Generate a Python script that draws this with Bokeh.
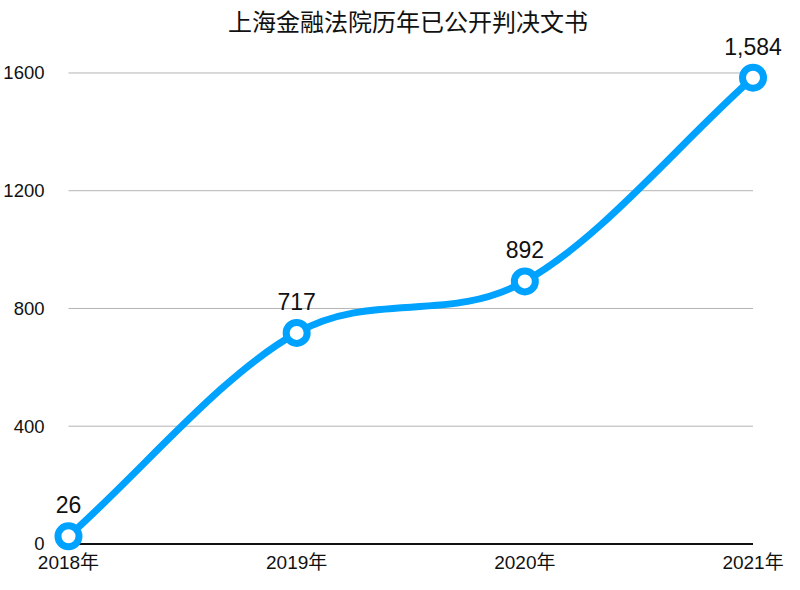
from bokeh.plotting import figure
from bokeh.models import Range1d, FixedTicker, ColumnDataSource, LabelSet
from bokeh.core.properties import value
from bokeh.embed import file_html
from bokeh.resources import INLINE

title_text = "上海金融法院历年已公开判决文书"
categories = ["2018年", "2019年", "2020年", "2021年"]
counts = [26, 717, 892, 1584]
y_ticks = [0, 400, 800, 1200, 1600]

BLUE = "#00A2FF"
NUM_FONT = "Liberation Sans, Noto Sans CJK SC"

xs = list(range(len(categories)))
src = ColumnDataSource(dict(x=xs, y=counts, zero=[0] * len(xs), cat=categories,
                            lab=[f"{v:,}" for v in counts]))

p = figure(width=784, height=574, output_backend="svg", toolbar_location=None,
           x_axis_location=None,
           x_range=Range1d(-0.1577, 3.1336), y_range=Range1d(-100.4, 1720.5),
           min_border_left=1, min_border_right=1, min_border_top=1, min_border_bottom=1)
p.outline_line_color = None
p.background_fill_color = "white"
p.border_fill_color = "white"
for g in p.grid:
    g.visible = False

p.title.text = title_text
p.title.align = "center"
p.title.offset = 8
p.title.text_font = "Noto Sans CJK SC"
p.title.text_font_size = "24px"
p.title.text_font_style = "normal"
p.title.text_color = "#111111"
p.title.standoff = 0

# y axis (labels allowed to reach into the frame's empty left margin)
p.yaxis.ticker = FixedTicker(ticks=y_ticks)
p.yaxis.axis_line_color = None
p.yaxis.major_tick_line_color = None
p.yaxis.minor_tick_line_color = None
p.yaxis.major_label_text_font = NUM_FONT
p.yaxis.major_label_text_font_size = "18.5px"
p.yaxis.major_label_text_color = "#111111"
p.yaxis.major_label_standoff = -18

# gridlines spanning the category extent
grid_vals = [t for t in y_ticks if t != 0]
p.segment(x0=[xs[0]] * len(grid_vals), y0=grid_vals,
          x1=[xs[-1]] * len(grid_vals), y1=grid_vals,
          line_color="#b4b4b4", line_width=1)
# baseline
p.segment(x0=[xs[0]], y0=[0], x1=[xs[-1]], y1=[0], line_color="#111111", line_width=2)

# smooth curve (Catmull-Rom through the data points, drawn as cubic Beziers)
n = len(xs)
tx, ty = [], []
for i in range(n):
    if i == 0:
        tx.append(xs[1] - xs[0]); ty.append(counts[1] - counts[0])
    elif i == n - 1:
        tx.append(xs[-1] - xs[-2]); ty.append(counts[-1] - counts[-2])
    else:
        tx.append((xs[i + 1] - xs[i - 1]) / 2); ty.append((counts[i + 1] - counts[i - 1]) / 2)
bx0, by0, bx1, by1, cx0, cy0, cx1, cy1 = [], [], [], [], [], [], [], []
for i in range(n - 1):
    bx0.append(xs[i]); by0.append(counts[i])
    bx1.append(xs[i + 1]); by1.append(counts[i + 1])
    cx0.append(xs[i] + tx[i] / 3); cy0.append(counts[i] + ty[i] / 3)
    cx1.append(xs[i + 1] - tx[i + 1] / 3); cy1.append(counts[i + 1] - ty[i + 1] / 3)
p.bezier(x0=bx0, y0=by0, x1=bx1, y1=by1, cx0=cx0, cy0=cy0, cx1=cx1, cy1=cy1,
         line_color=BLUE, line_width=7, line_cap="round")

p.scatter("x", "y", source=src, size=21, fill_color="white", line_color=BLUE, line_width=7)

# category labels under the baseline
p.add_layout(LabelSet(x="x", y="zero", text="cat", source=src, text_align="center",
                      text_baseline="middle", y_offset=-19, text_font=value(NUM_FONT),
                      text_font_size="19px", text_color="#111111"))
# value labels above the points
p.add_layout(LabelSet(x="x", y="y", text="lab", source=src, text_align="center",
                      text_baseline="alphabetic", y_offset=23, text_font=value(NUM_FONT),
                      text_font_size="23px", text_color="#111111"))

open("out.html", "w").write(file_html(p, INLINE))
